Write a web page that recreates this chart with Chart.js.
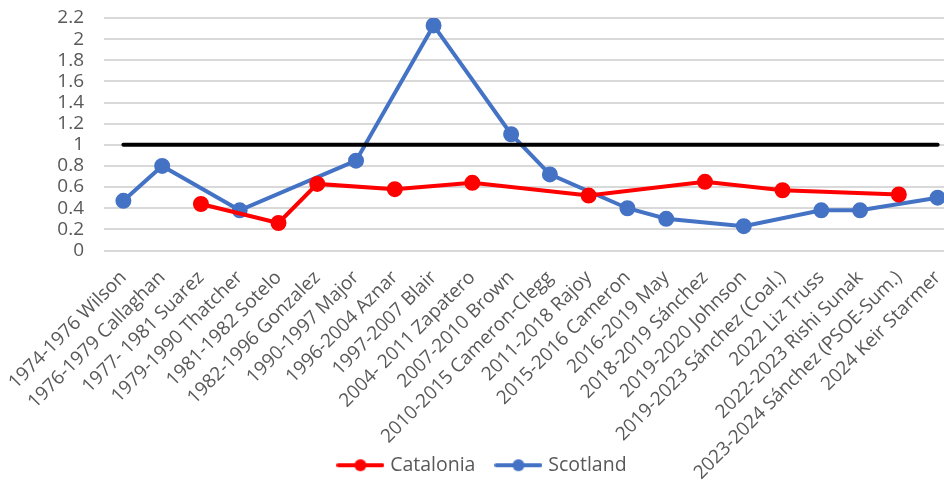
<!DOCTYPE html>
<html>
<head>
<meta charset="utf-8">
<script src="https://cdn.jsdelivr.net/npm/chart.js@4"></script>
<style>
  html, body { margin: 0; padding: 0; background: #fff; overflow: hidden; }
  #wrap { width: 944px; height: 485px; overflow: hidden; }
  #lienzo { width: 967px; height: 485px; position: relative; }
</style>
</head>
<body>
<div id="wrap"><div id="lienzo"><canvas id="grafico"></canvas></div></div>
<script>
const periodos = [
  '1974-1976 Wilson', '1976-1979 Callaghan', '1977- 1981 Suarez', '1979-1990 Thatcher',
  '1981-1982 Sotelo', '1982-1996 Gonzalez', '1990-1997 Major', '1996-2004 Aznar',
  '1997-2007 Blair', '2004- 2011 Zapatero', '2007-2010 Brown', '2010-2015 Cameron-Clegg',
  '2011-2018 Rajoy', '2015-2016 Cameron', '2016-2019 May', '2018-2019 Sánchez',
  '2019-2020 Johnson', '2019-2023 Sánchez (Coal.)', '2022 Liz Truss', '2022-2023 Rishi Sunak',
  '2023-2024 Sánchez (PSOE-Sum.)', '2024 Keir Starmer'
];
const catalonia = [null, null, 0.44, null, 0.26, 0.63, null, 0.58, null, 0.64, null, null,
  0.52, null, null, 0.65, null, 0.57, null, null, 0.53, null];
const scotland = [0.47, 0.80, null, 0.38, null, null, 0.85, null, 2.13, null, 1.10, 0.72,
  null, 0.40, 0.30, null, 0.23, null, 0.38, 0.38, null, 0.50];
const referencia = periodos.map(() => 1);
const ticksY = [0, 0.2, 0.4, 0.6, 0.8, 1, 1.2, 1.4, 1.6, 1.8, 2, 2.2];

const fuente = { family: '"Open Sans", sans-serif', size: 19 };
const fuenteLeyenda = { family: '"Open Sans", sans-serif', size: 19.5 };

// marcador de leyenda: línea con punto en el centro
const marcador = (color) => {
  const c = document.createElement('canvas');
  c.width = 48; c.height = 14;
  const ctx = c.getContext('2d');
  ctx.strokeStyle = color;
  ctx.lineWidth = 4;
  ctx.lineCap = 'round';
  ctx.beginPath(); ctx.moveTo(2, 7); ctx.lineTo(46, 7); ctx.stroke();
  ctx.fillStyle = color;
  ctx.beginPath(); ctx.arc(24, 7, 6, 0, Math.PI * 2); ctx.fill();
  return c;
}

const dataSet = (label, data, color, radius) => {
  return {
    label: label,
    data: data,
    borderColor: color,
    backgroundColor: color,
    pointBackgroundColor: color,
    pointBorderColor: color,
    borderWidth: 4,
    pointRadius: radius,
    pointHoverRadius: radius,
    pointStyle: 'circle',
    legendStyle: marcador(color),
    spanGaps: true,
    borderCapStyle: 'round',
    tension: 0
  }
}

new Chart(document.getElementById('grafico'), {
  type: 'line',
  data: {
    labels: periodos,
    datasets: [
      dataSet('ref', referencia, '#000000', 0),
      dataSet('Catalonia', catalonia, '#ff0000', 6),
      dataSet('Scotland', scotland, '#4472c4', 6)
    ]
  },
  options: {
    responsive: true,
    maintainAspectRatio: false,
    animation: false,
    layout: { padding: { left: 0, right: 0, top: 18, bottom: 0 } },
    plugins: {
      legend: {
        position: 'bottom',
        labels: {
          color: '#595959',
          font: fuenteLeyenda,
          usePointStyle: true,
          pointStyleWidth: 40,
          padding: 23,
          generateLabels: (chart) => chart.data.datasets
            .map((d, i) => ({
              text: d.label,
              fillStyle: d.borderColor,
              strokeStyle: d.borderColor,
              fontColor: '#595959',
              pointStyle: d.legendStyle,
              lineWidth: 0,
              datasetIndex: i
            }))
            .filter(item => item.text !== 'ref')
        }
      },
      tooltip: { enabled: false }
    },
    scales: {
      x: {
        offset: true,
        grid: { display: false },
        border: { display: false },
        afterFit: (scale) => {
          scale.height = 182;
          scale.paddingRight = 0;
          // las etiquetas largas pasan por debajo, junto a la leyenda
          scale._computeLabelArea = () => undefined;
        },
        ticks: {
          color: '#595959',
          font: fuente,
          maxRotation: 45,
          minRotation: 45,
          autoSkip: false,
          padding: 8
        }
      },
      y: {
        min: 0,
        max: 2.2,
        afterBuildTicks: (axis) => { axis.ticks = ticksY.map(v => ({ value: v })); },
        afterFit: (scale) => { scale.width = 104; scale.paddingTop = 0; scale.paddingBottom = 0; },
        grid: { color: '#d9d9d9', lineWidth: 2, drawTicks: false },
        border: { display: false },
        ticks: {
          color: '#595959',
          font: fuente,
          autoSkip: false,
          padding: 20,
          callback: (v) => String(Math.round(v * 10) / 10)
        }
      }
    }
  }
});
</script>
</body>
</html>
